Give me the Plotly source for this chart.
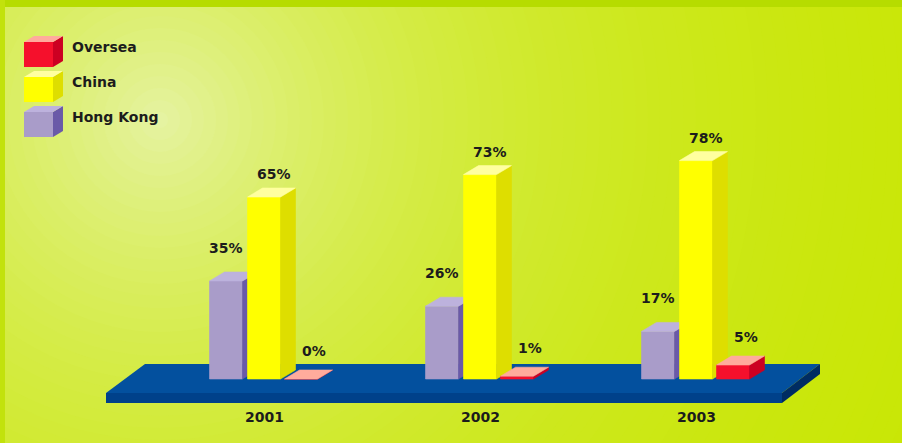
import math
import plotly.graph_objects as go

# ---------------- data ----------------
years = ["2001", "2002", "2003"]
series_names = ["Hong Kong", "China", "Oversea"]
hong_kong = [35, 26, 17]
china = [65, 73, 78]
oversea = [0, 1, 5]
legend_order = ["Oversea", "China", "Hong Kong"]

values = {"Hong Kong": hong_kong, "China": china, "Oversea": oversea}

# ---------------- style ----------------
W, H = 902, 443
X0_PX, UNIT_X = 264, 216.0      # pixel of group 0, pixels per group
Y0_PX, UNIT_Y = 379, 2.8        # pixel of 0 %, pixels per %

colors = {  # front, side, top
    "Hong Kong": ("#a99cc9", "#6a5aa8", "#bdb2dd"),
    "China": ("#ffff00", "#dede00", "#ffffa0"),
    "Oversea": ("#f5102c", "#cc0022", "#ffab9c"),
}
offset_px = {"Hong Kong": -38, "China": 0, "Oversea": 37}
label_xshift = {"Hong Kong": 0, "China": 10, "Oversea": 13}
label_yshift = {"Hong Kong": 33, "China": 23, "Oversea": 28}
BAR_W = 33 / UNIT_X
DEPTH_X = 15 / UNIT_X
DEPTH_Y = 9 / UNIT_Y
FONT = "DejaVu Sans"
TXT = "#1c1c1c"

x_range = [-X0_PX / UNIT_X, (W - X0_PX) / UNIT_X]
y_range = [-(H - Y0_PX) / UNIT_Y, Y0_PX / UNIT_Y]


def P(px, py):
    return px / W, 1 - py / H


def ppath(points):
    pts = [P(x, y) for x, y in points]
    return "M " + " L ".join(f"{x:.5f},{y:.5f}" for x, y in pts) + " Z"


shapes = []

# background radial gradient (stacked circles)
outer = (200, 230, 0)
inner = (230, 243, 165)
cx, cy = 160, 120
r = 980
while r > 4:
    f = max(0.0, (math.exp(-r / 330) - 0.05) / 0.95)
    c = tuple(int(round(o + (i - o) * f)) for o, i in zip(outer, inner))
    x0, y0 = P(cx - r, cy - r)
    x1, y1 = P(cx + r, cy + r)
    shapes.append(dict(type="circle", xref="paper", yref="paper", x0=x0, x1=x1,
                       y0=y1, y1=y0, fillcolor=f"rgb{c}", line=dict(width=0), layer="below"))
    r -= 12

# frame strips
shapes.append(dict(type="rect", xref="paper", yref="paper", x0=0, x1=1,
                   y0=1 - 7 / H, y1=1, fillcolor="#b6dc00", line=dict(width=0), layer="below"))
shapes.append(dict(type="rect", xref="paper", yref="paper", x0=0, x1=5 / W,
                   y0=0, y1=1, fillcolor="#c2e20c", line=dict(width=0), layer="below"))

# floor
floor_top = [(145, 364), (820, 364), (782, 393), (106, 393)]
floor_front = [(106, 393), (782, 393), (782, 403), (106, 403)]
floor_side = [(782, 393), (820, 364), (820, 374), (782, 403)]
for pts, col in [(floor_top, "#03509e"), (floor_front, "#00418a"), (floor_side, "#002c62")]:
    shapes.append(dict(type="path", xref="paper", yref="paper", path=ppath(pts),
                       fillcolor=col, line=dict(width=0), layer="below"))

# legend cubes
annotations = []
leg_top = {"Oversea": 42, "China": 77, "Hong Kong": 112}
for name in legend_order:
    front, side, top = colors[name]
    t = leg_top[name]
    x0, x1, b = 24, 53, t + 25
    dxp, dyp = 10, 6
    shapes.append(dict(type="path", xref="paper", yref="paper",
                       path=ppath([(x0, t), (x1, t), (x1, b), (x0, b)]),
                       fillcolor=front, line=dict(width=0)))
    shapes.append(dict(type="path", xref="paper", yref="paper",
                       path=ppath([(x1, t), (x1 + dxp, t - dyp), (x1 + dxp, b - dyp), (x1, b)]),
                       fillcolor=side, line=dict(width=0)))
    shapes.append(dict(type="path", xref="paper", yref="paper",
                       path=ppath([(x0, t), (x0 + dxp, t - dyp), (x1 + dxp, t - dyp), (x1, t)]),
                       fillcolor=top, line=dict(width=0)))
    lx, ly = P(70, t + 5)
    annotations.append(dict(xref="paper", yref="paper", x=lx, y=ly, xanchor="left",
                            yanchor="middle", showarrow=False, text=f"<b>{name}</b>",
                            font=dict(family=FONT, size=14, color=TXT)))

# ---------------- bars ----------------
fig = go.Figure()
for name in series_names:
    front, side, top = colors[name]
    vals = values[name]
    faces = {"front": ([], []), "side": ([], []), "top": ([], [])}
    for i, v in enumerate(vals):
        x0 = i + offset_px[name] / UNIT_X - BAR_W / 2
        x1 = x0 + BAR_W
        polys = {
            "front": [(x0, 0), (x1, 0), (x1, v), (x0, v)],
            "side": [(x1, 0), (x1 + DEPTH_X, DEPTH_Y), (x1 + DEPTH_X, v + DEPTH_Y), (x1, v)],
            "top": [(x0, v), (x1, v), (x1 + DEPTH_X, v + DEPTH_Y), (x0 + DEPTH_X, v + DEPTH_Y)],
        }
        for k, pts in polys.items():
            xs, ys = faces[k]
            xs.extend([p[0] for p in pts] + [pts[0][0], None])
            ys.extend([p[1] for p in pts] + [pts[0][1], None])
        annotations.append(dict(x=i + offset_px[name] / UNIT_X, y=v, xref="x", yref="y",
                                text=f"<b>{v}%</b>", showarrow=False,
                                xshift=label_xshift[name], yshift=label_yshift[name],
                                font=dict(family=FONT, size=14, color=TXT)))
    for k, col in [("front", front), ("side", side), ("top", top)]:
        xs, ys = faces[k]
        fig.add_trace(go.Scatter(x=xs, y=ys, mode="lines", fill="toself",
                                 fillcolor=col, line=dict(width=0.6, color=col),
                                 hoverinfo="skip", showlegend=False, name=name))

# year labels
for i, yr in enumerate(years):
    annotations.append(dict(x=i, y=0, xref="x", yref="y", text=f"<b>{yr}</b>",
                            showarrow=False, yshift=-38,
                            font=dict(family=FONT, size=14, color=TXT)))

fig.update_layout(
    width=W, height=H,
    margin=dict(l=0, r=0, t=0, b=0),
    paper_bgcolor="#c8e600",
    plot_bgcolor="rgba(0,0,0,0)",
    xaxis=dict(range=x_range, visible=False, fixedrange=True),
    yaxis=dict(range=y_range, visible=False, fixedrange=True),
    showlegend=False,
    shapes=shapes,
    annotations=annotations,
)

fig.write_html("out.html")
